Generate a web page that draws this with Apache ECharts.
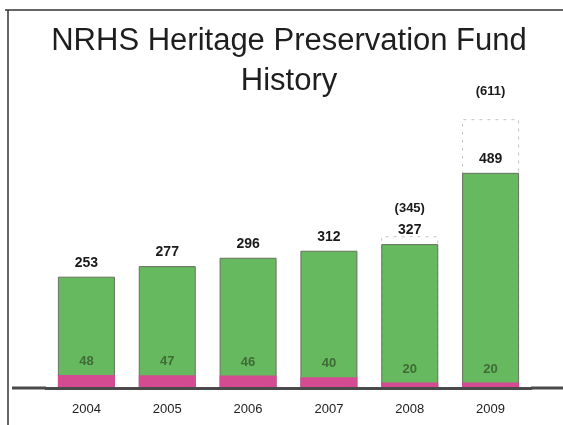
<!DOCTYPE html>
<html>
<head>
<meta charset="utf-8">
<script src="https://cdn.jsdelivr.net/npm/echarts@6/dist/echarts.min.js"></script>
<style>
html,body{margin:0;padding:0;background:#fff;}
#chart{width:563px;height:425px;}
</style>
</head>
<body>
<div id="chart"></div>
<script>
const categories = ['2004', '2005', '2006', '2007', '2008', '2009'];
const fundTotals = [253, 277, 296, 312, 327, 489];
const projectedTotals = [null, null, null, null, 345, 611];
const grantCounts = [48, 47, 46, 40, 20, 20];

const chart = echarts.init(document.getElementById('chart'));
const FONT = '"Liberation Sans", Arial, sans-serif';

const option = {
  backgroundColor: '#ffffff',
  animation: false,
  title: {
    text: 'NRHS Heritage Preservation Fund\nHistory',
    left: 284,
    textAlign: 'center',
    top: 16,
    textStyle: {
      fontFamily: FONT,
      fontSize: 31,
      fontWeight: 'normal',
      color: '#1e1e1e',
      lineHeight: 40
    }
  },
  grid: { left: 46, right: 32, top: 80, bottom: 37 },
  xAxis: {
    type: 'category',
    data: categories,
    axisLine: { show: true, lineStyle: { color: '#4a4a4a', width: 3 } },
    axisTick: { show: false },
    axisLabel: { margin: 15, fontFamily: FONT, fontSize: 13, color: '#222' },
    z: 10
  },
  yAxis: [
    { type: 'value', min: 0, max: 700, show: false, splitLine: { show: false } },
    { type: 'value', min: 0, max: 1140, show: false, splitLine: { show: false } }
  ],
  series: [
    {
      name: 'Projected',
      type: 'bar',
      data: projectedTotals,
      barWidth: 57,
      barGap: '-100%',
      z: 1,
      itemStyle: {
        color: 'rgba(255,255,255,0)',
        borderColor: '#c4c4c4',
        borderWidth: 1,
        borderType: [3, 5]
      },
      label: {
        show: true,
        position: 'top',
        distance: 21,
        formatter: p => '(' + p.value + ')',
        fontFamily: FONT,
        fontSize: 13,
        fontWeight: 'bold',
        color: '#1a1a1a'
      }
    },
    {
      name: 'Fund',
      type: 'bar',
      data: fundTotals,
      barWidth: 57,
      barGap: '-100%',
      z: 2,
      itemStyle: { color: '#66b95e', borderColor: '#66725f', borderWidth: 1 },
      label: {
        show: true,
        position: 'top',
        distance: 7,
        fontFamily: FONT,
        fontSize: 14,
        fontWeight: 'bold',
        color: '#1a1a1a'
      }
    },
    {
      name: 'Grants',
      type: 'bar',
      yAxisIndex: 1,
      data: grantCounts,
      barWidth: 57,
      barGap: '-100%',
      z: 3,
      itemStyle: { color: '#d44b92' },
      label: {
        show: true,
        position: 'top',
        distance: 7,
        fontFamily: FONT,
        fontSize: 13,
        fontWeight: 'bold',
        color: '#3f6b36'
      }
    }
  ],
  graphic: [
    { type: 'line', shape: { x1: 5, y1: 10, x2: 563, y2: 10 }, style: { stroke: '#333', lineWidth: 1.5 } },
    { type: 'line', shape: { x1: 8, y1: 10, x2: 8, y2: 425 }, style: { stroke: '#333', lineWidth: 1.5 } },
    { type: 'line', shape: { x1: 12, y1: 388, x2: 46, y2: 388 }, style: { stroke: '#4a4a4a', lineWidth: 3 } },
    { type: 'line', shape: { x1: 531, y1: 388, x2: 563, y2: 388 }, style: { stroke: '#4a4a4a', lineWidth: 3 } }
  ]
};
chart.setOption(option);
</script>
</body>
</html>
